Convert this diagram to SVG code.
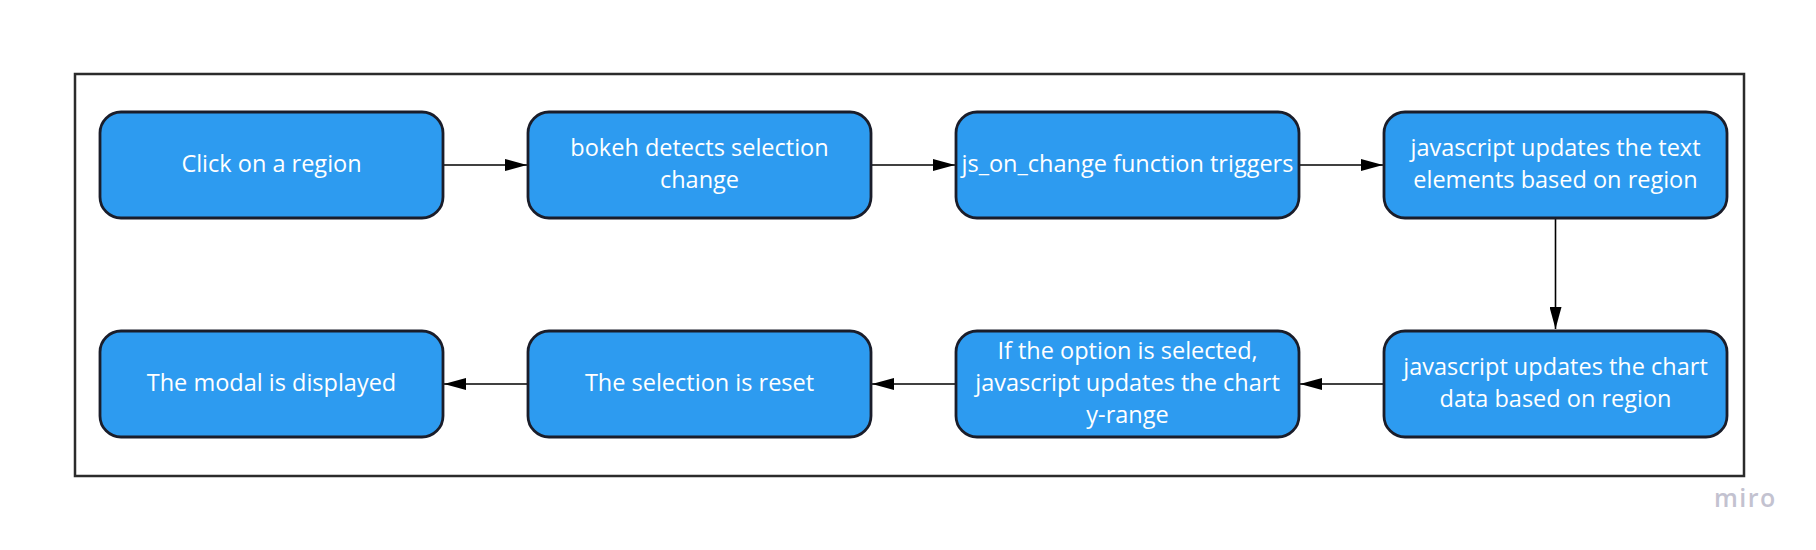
<svg xmlns="http://www.w3.org/2000/svg" width="1816" height="550" viewBox="0 0 1816 550">
<style>
.node rect{fill:#2d9bf0;stroke:#1a1d2a;stroke-width:2.8}
.node text{fill:#ffffff;font-family:"Open Sans","Noto Sans",sans-serif;font-size:23.5px;text-anchor:middle}
.conn line{stroke:#000;stroke-width:1.6;fill:none}
.frame{fill:none;stroke:#2b2b2b;stroke-width:2.5}
.logo{fill:#c3c2d0;font-family:"Open Sans","Noto Sans",sans-serif;font-size:25px;font-weight:600;letter-spacing:1.5px}
</style>
<defs>
<marker id="ah" markerWidth="22" markerHeight="12" refX="22" refY="6" orient="auto" markerUnits="userSpaceOnUse">
<path d="M0,0 L22,6 L0,12 Z" fill="#000"/>
</marker>
</defs>
<rect width="1816" height="550" fill="#ffffff"/>
<rect class="frame" x="75" y="74" width="1669" height="402"/>
<g id="connectors" class="conn">
<line x1="444" y1="165" x2="527" y2="165" marker-end="url(#ah)"/>
<line x1="872" y1="165" x2="955" y2="165" marker-end="url(#ah)"/>
<line x1="1300" y1="165" x2="1383" y2="165" marker-end="url(#ah)"/>
<line x1="1555.5" y1="219" x2="1555.5" y2="329" marker-end="url(#ah)"/>
<line x1="1383" y1="384" x2="1300" y2="384" marker-end="url(#ah)"/>
<line x1="955" y1="384" x2="872" y2="384" marker-end="url(#ah)"/>
<line x1="527" y1="384" x2="444" y2="384" marker-end="url(#ah)"/>
</g>
<g id="n1" class="node"><rect x="100" y="112" width="343" height="106" rx="21"/><text x="271.5" y="172">Click on a region</text></g>
<g id="n2" class="node"><rect x="528" y="112" width="343" height="106" rx="21"/><text x="699.5" y="156">bokeh detects selection</text><text x="699.5" y="188">change</text></g>
<g id="n3" class="node"><rect x="956" y="112" width="343" height="106" rx="21"/><text x="1127.5" y="172">js_on_change function triggers</text></g>
<g id="n4" class="node"><rect x="1384" y="112" width="343" height="106" rx="21"/><text x="1555.5" y="156">javascript updates the text</text><text x="1555.5" y="188">elements based on region</text></g>
<g id="n5" class="node"><rect x="1384" y="331" width="343" height="106" rx="21"/><text x="1555.5" y="375">javascript updates the chart</text><text x="1555.5" y="407">data based on region</text></g>
<g id="n6" class="node"><rect x="956" y="331" width="343" height="106" rx="21"/><text x="1127.5" y="359">If the option is selected,</text><text x="1127.5" y="391">javascript updates the chart</text><text x="1127.5" y="423">y-range</text></g>
<g id="n7" class="node"><rect x="528" y="331" width="343" height="106" rx="21"/><text x="699.5" y="391">The selection is reset</text></g>
<g id="n8" class="node"><rect x="100" y="331" width="343" height="106" rx="21"/><text x="271.5" y="391">The modal is displayed</text></g>
<text class="logo" x="1714" y="507">miro</text>
</svg>
